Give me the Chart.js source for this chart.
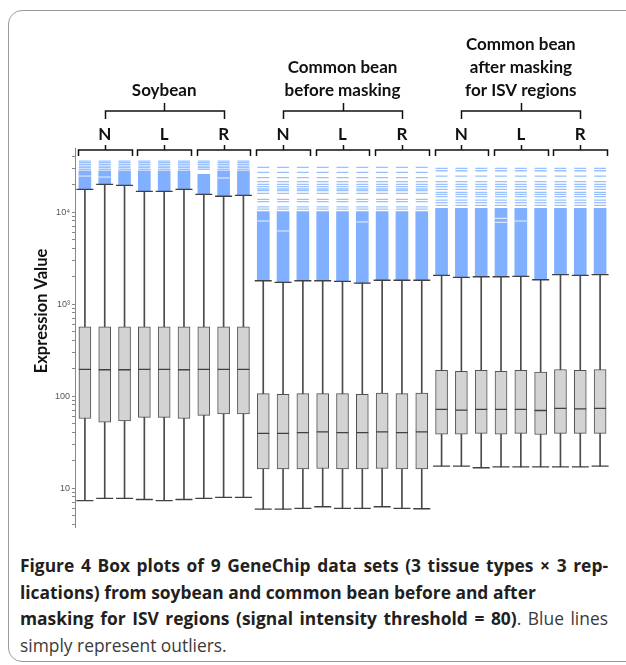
<!DOCTYPE html>
<html>
<head>
<meta charset="utf-8">
<script src="https://cdn.jsdelivr.net/npm/chart.js@4.4.0/dist/chart.umd.min.js"></script>
<style>
html, body { margin: 0; padding: 0; background: #fff; }
body { width: 626px; height: 665px; overflow: hidden; position: relative; font-family: "Open Sans", sans-serif; }
#frame { position: absolute; left: 8px; top: 10px; width: 660px; height: 650px; border: 1px solid #9a9a9a; border-radius: 14px; }
#wrap { position: absolute; left: 0; top: 0; width: 626px; height: 540px; }
#caption { position: absolute; left: 20px; top: 552px; width: 588px; font-size: 17.4px; line-height: 26.5px; color: #231f20; }
#caption div { white-space: nowrap; }
.j { text-align: justify; text-align-last: justify; }
.plain { color: #3a3a3a; font-weight: 400; }
</style>
</head>
<body>
<div id="frame"></div>
<div id="wrap"><canvas id="boxChart"></canvas></div>
<div id="caption">
  <div class="j"><b>Figure 4 Box plots of 9 GeneChip data sets (3 tissue types × 3 rep-</b></div>
  <div><b>lications) from soybean and common bean before and after</b></div>
  <div class="j"><b>masking for ISV regions (signal intensity threshold = 80)</b><span class="plain">. Blue lines</span></div>
  <div class="plain">simply represent outliers.</div>
</div>

<script>
// Groups and tissue types shown above the boxes
const groups = [
    ['Soybean'],
    ['Common bean', 'before masking'],
    ['Common bean', 'after masking', 'for ISV regions']
];
const tissues = ['N', 'L', 'R'];

// One box per GeneChip data set
const labels = [
    'Soy N1', 'Soy N2', 'Soy N3', 'Soy L1', 'Soy L2', 'Soy L3', 'Soy R1', 'Soy R2', 'Soy R3',
    'CB N1', 'CB N2', 'CB N3', 'CB L1', 'CB L2', 'CB L3', 'CB R1', 'CB R2', 'CB R3',
    'CBm N1', 'CBm N2', 'CBm N3', 'CBm L1', 'CBm L2', 'CBm L3', 'CBm R1', 'CBm R2', 'CBm R3'
];

// Box plot statistics (expression values)
const lowerWhisker = [7.3, 7.7, 7.7, 7.5, 7.3, 7.5, 7.7, 7.9, 7.9,
    5.9, 5.9, 6.0, 6.26, 6.0, 6.0, 6.26, 6.0, 5.95,
    17.3, 17.3, 16.6, 17.0, 17.0, 17.0, 17.0, 17.0, 17.3];
const q1 = [57, 52, 53.5, 58.7, 58.7, 57, 61.7, 63.7, 63.7,
    16.1, 16.1, 16.1, 16.3, 16.1, 16.1, 16.3, 16.1, 16.1,
    38.6, 38.6, 39.3, 38.6, 39.3, 38.2, 39.3, 39.3, 39.3];
const median = [195, 193, 193, 195, 195, 193, 195, 195, 195,
    39.3, 39.3, 40, 40.8, 40, 40, 40.8, 40, 40.8,
    71.7, 70.2, 71.7, 71.7, 71.7, 69.6, 73.4, 72.6, 73.4];
const q3 = [566, 566, 566, 566, 566, 566, 566, 566, 566,
    106, 104, 106, 106, 106, 104, 107.6, 106, 107.6,
    190, 185, 190, 185, 190, 182, 194, 190, 194];
const upperWhisker = [17660, 20000, 19500, 16800, 16800, 17660, 15570, 14830, 15200,
    1790, 1722, 1790, 1790, 1766, 1690, 1812, 1812, 1812,
    2050, 1950, 1980, 1980, 1995, 1836, 2085, 2050, 2085];

// Outliers: dense band above the whisker, then separate outlier lines per group
const denseTop = [28000, 28000, 28000, 28000, 28000, 28000, 25700, 28000, 28000,
    10100, 10100, 10100, 10100, 10100, 10100, 10100, 10100, 10100,
    10950, 10950, 10950, 10950, 10950, 10950, 10950, 10950, 10950];
const soyOutliers = [35800, 34350, 33000, 31600, 30350, 29100];
const beforeOutliers = [30600, 26980, 23600, 21350, 20000, 18850, 17800, 17050, 15960, 13750, 12950, 11400, 10750];
const afterOutliers = [29800, 28100, 24600, 21350, 20000, 18850, 17660, 16370, 15570, 14680, 13500, 12620, 11800];
const outlierLevels = [soyOutliers, beforeOutliers, afterOutliers];

// White gaps inside the dense outlier bands: [box index, value]
const gapLines = [[0, 24600], [1, 24000], [7, 23400], [9, 7980], [10, 6220], [14, 7800], [21, 8540], [21, 7730], [22, 7980]];

// Y axis ticks
const majorTicks = [10, 100, 1000, 10000];
const majorTickLabels = ['10', '100', '10³', '10⁴'];
const yMin = 3.77;
const yMax = 49640;

const blue = 'rgb(128, 176, 255)';

let boxChart;

document.addEventListener('DOMContentLoaded', function() {
    fitCaption();
    initializeChart();
});

// Tighten justified caption lines that do not fit the caption width
function fitCaption() {
    document.querySelectorAll('#caption .j').forEach(function(line) {
        let ls = 0;
        while (line.scrollWidth > line.clientWidth && ls > -1.5) {
            ls -= 0.05;
            line.style.letterSpacing = ls + 'px';
        }
    });
}

// Draw bracket: horizontal line with hooks down at both ends and a tick up in the middle
function bracket(ctx, a, b, c, y, down, up) {
    ctx.beginPath();
    ctx.moveTo(a, y + down);
    ctx.lineTo(a, y);
    ctx.lineTo(b, y);
    ctx.lineTo(b, y + down);
    ctx.moveTo(c, y);
    ctx.lineTo(c, y - up);
    ctx.stroke();
}

const annotations = {
    id: 'annotations',
    afterDraw(chart) {
        const ctx = chart.ctx;
        const x = chart.scales.x;
        const top = chart.chartArea.top;
        ctx.save();
        ctx.strokeStyle = '#111';
        ctx.fillStyle = '#111';
        ctx.lineWidth = 1.5;
        ctx.textAlign = 'center';
        ctx.textBaseline = 'middle';
        ctx.font = 'bold 17px Lato';

        // tissue brackets
        for (let t = 0; t < 9; t++) {
            const a = x.getPixelForValue(t * 3) - 7;
            const b = x.getPixelForValue(t * 3 + 2) + 7;
            const c = x.getPixelForValue(t * 3 + 1);
            bracket(ctx, Math.round(a) + 0.5, Math.round(b) + 0.5, Math.round(c) + 0.5, top + 2, 6, 5);
            ctx.fillText(tissues[t % 3], c, top - 13);
        }

        // group brackets and titles
        groups.forEach(function(lines, g) {
            const a = x.getPixelForValue(g * 9 + 1);
            const b = x.getPixelForValue(g * 9 + 7);
            const c = x.getPixelForValue(g * 9 + 4);
            bracket(ctx, Math.round(a) + 0.5, Math.round(b) + 0.5, Math.round(c) + 0.5, top - 37, 8, 8);
            lines.forEach(function(s, k) {
                ctx.fillText(s, c, top - 57 - (lines.length - 1 - k) * 23);
            });
        });

        // y axis title
        ctx.font = 'bold 16.5px Lato';
        ctx.translate(42, 311);
        ctx.rotate(-Math.PI / 2);
        ctx.fillText('Expression Value', 0, 0);
        ctx.restore();
    }
};

function initializeChart() {
    const outlierPoints = [];
    labels.forEach(function(label, i) {
        outlierLevels[Math.floor(i / 9)].forEach(function(v) {
            outlierPoints.push({ x: label, y: v });
        });
    });
    const gapPoints = gapLines.map(function(g) { return { x: labels[g[0]], y: g[1] }; });
    const capPoints = labels.map(function(label, i) { return { x: label, y: lowerWhisker[i] }; })
        .concat(labels.map(function(label, i) { return { x: label, y: upperWhisker[i] }; }));

    const ctx = document.getElementById('boxChart').getContext('2d');
    boxChart = new Chart(ctx, {
        type: 'bar',
        data: {
            labels: labels,
            datasets: [
                {
                    label: 'Outlier band',
                    data: upperWhisker.map(function(v, i) { return [v, denseTop[i]]; }),
                    backgroundColor: blue,
                    barThickness: 12,
                    grouped: false,
                    order: 6
                },
                {
                    type: 'line',
                    label: 'Outliers',
                    data: outlierPoints,
                    showLine: false,
                    pointStyle: 'line',
                    pointRadius: 6,
                    pointBorderColor: 'rgba(128, 176, 255, 0.8)',
                    pointBorderWidth: 1.3,
                    order: 5
                },
                {
                    type: 'line',
                    label: 'Gaps',
                    data: gapPoints,
                    showLine: false,
                    pointStyle: 'line',
                    pointRadius: 6,
                    pointBorderColor: 'rgba(255, 255, 255, 0.85)',
                    pointBorderWidth: 1,
                    order: 4
                },
                {
                    label: 'Whiskers',
                    data: lowerWhisker.map(function(v, i) { return [v, upperWhisker[i]]; }),
                    backgroundColor: '#4a4a4a',
                    barThickness: 1,
                    grouped: false,
                    order: 3
                },
                {
                    label: 'Box',
                    data: q1.map(function(v, i) { return [v, q3[i]]; }),
                    backgroundColor: '#d3d3d3',
                    borderColor: '#505050',
                    borderWidth: 1,
                    borderSkipped: false,
                    barThickness: 12,
                    grouped: false,
                    order: 2
                },
                {
                    type: 'line',
                    label: 'Median',
                    data: median,
                    showLine: false,
                    pointStyle: 'line',
                    pointRadius: 6,
                    pointBorderColor: '#404040',
                    pointBorderWidth: 1.3,
                    order: 1
                },
                {
                    type: 'line',
                    label: 'Whisker caps',
                    data: capPoints,
                    showLine: false,
                    pointStyle: 'line',
                    pointRadius: 8.5,
                    pointBorderColor: '#404040',
                    pointBorderWidth: 1.3,
                    order: 1
                }
            ]
        },
        options: {
            responsive: true,
            maintainAspectRatio: false,
            animation: false,
            events: [],
            layout: {
                padding: { top: 148, bottom: 13, left: 0, right: 16 }
            },
            plugins: {
                legend: { display: false },
                tooltip: { enabled: false }
            },
            scales: {
                x: {
                    display: false,
                    offset: true
                },
                y: {
                    type: 'logarithmic',
                    min: yMin,
                    max: yMax,
                    afterFit: function(scale) {
                        scale.width = 75;
                    },
                    afterBuildTicks: function(scale) {
                        const ticks = [];
                        [1].concat(majorTicks).forEach(function(d) {
                            for (let m = 1; m < 10; m++) {
                                const v = d * m;
                                if (v >= yMin && v <= yMax) ticks.push({ value: v });
                            }
                        });
                        scale.ticks = ticks;
                    },
                    ticks: {
                        autoSkip: false,
                        padding: 2,
                        color: '#555',
                        font: { family: 'Liberation Sans', size: 9 },
                        callback: function(value) {
                            const k = majorTicks.indexOf(value);
                            return k >= 0 ? majorTickLabels[k] : '';
                        }
                    },
                    grid: {
                        drawOnChartArea: false,
                        drawTicks: true,
                        tickLength: 3,
                        color: '#888'
                    },
                    border: { display: true, color: '#888', width: 1 }
                }
            }
        },
        plugins: [annotations]
    });
}
</script>
</body>
</html>
